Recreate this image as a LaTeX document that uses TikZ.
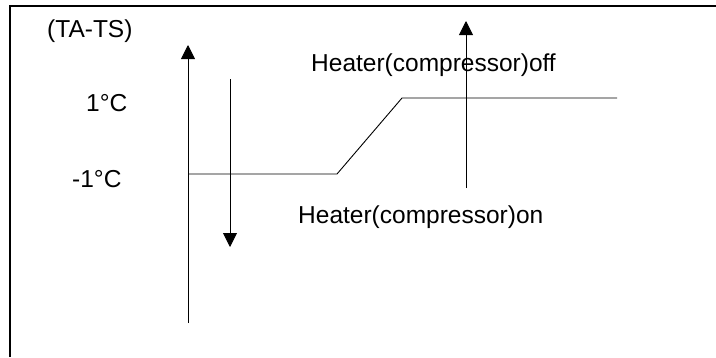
\documentclass[tikz,border=0pt]{standalone}
\usepackage{fontspec}
\setmainfont{Liberation Sans}
\usetikzlibrary{arrows.meta}
\tikzstyle{label} = [inner sep=0pt, anchor=west, font=\fontsize{24.5}{28}\selectfont]
\tikzstyle{line} = [line width=0.9pt]
\tikzstyle{arrow} = [line width=0.9pt, -{Triangle[width=14pt,length=14pt]}]

\begin{document}
\begin{tikzpicture}[x=1pt, y=-1pt]
            \useasboundingbox (0,0) rectangle (716,357);
            \draw [line width=1.5pt] (10,357) -- (10,6) -- (716,6);
            \node (ylabel) [label] at (47,31) {(TA-TS)};
            \node (hi) [label] at (86,103) {1°C};
            \node (lo) [label] at (72,179) {-1°C};
            \node (offlabel) [label] at (311,65) {Heater(compressor)off};
            \node (onlabel) [label] at (298,217) {Heater(compressor)on};
            \coordinate (axisbot) at (188,323);
            \coordinate (axistop) at (188,45);
            \coordinate (downtop) at (230,79);
            \coordinate (downtip) at (230,247);
            \coordinate (lowend) at (337,174);
            \coordinate (highstart) at (402,98);
            \coordinate (highend) at (617,98);
            \coordinate (upbot) at (466,188);
            \coordinate (uptip) at (466,21);
            \draw [arrow] (axisbot) -- (axistop);
            \draw [arrow] (downtop) -- (downtip);
            \draw [line] (axisbot |- lowend) -- (lowend) -- (highstart) -- (highend);
            \draw [arrow] (upbot) -- (uptip);
        \end{tikzpicture}
\end{document}
